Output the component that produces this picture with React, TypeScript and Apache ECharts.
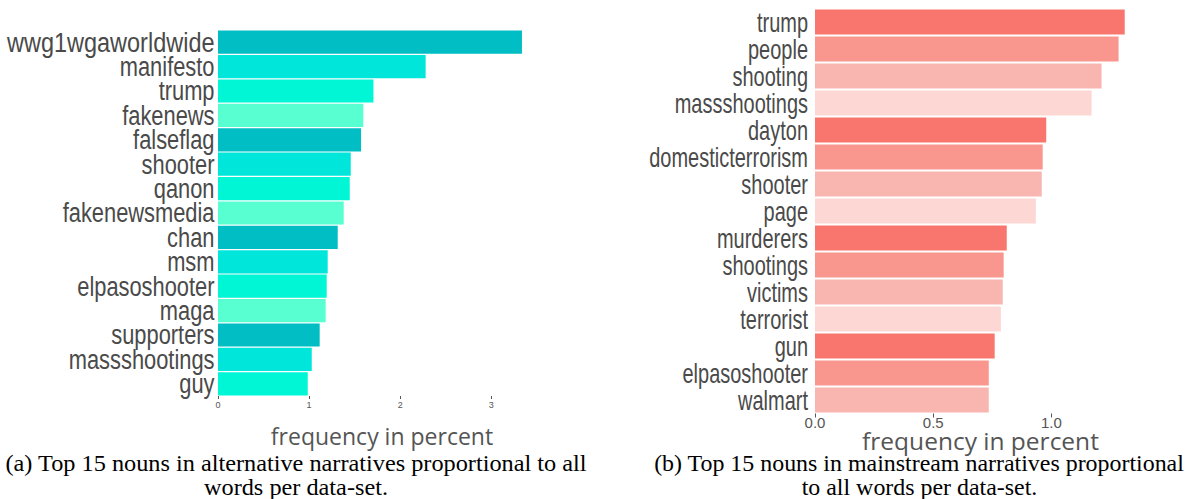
import React, { useEffect, useRef } from "react";
import * as echarts from "echarts";

const altWords = ["wwg1wgaworldwide", "manifesto", "trump", "fakenews", "falseflag", "shooter", "qanon", "fakenewsmedia", "chan", "msm", "elpasoshooter", "maga", "supporters", "massshootings", "guy"];
const altValues = [3.336, 2.279, 1.706, 1.595, 1.57, 1.457, 1.446, 1.38, 1.314, 1.204, 1.193, 1.182, 1.116, 1.029, 0.985];
const altTicks = [0, 1, 2, 3];
const altPalette = ["#00BEC3", "#00E6DA", "#00F6D5", "#58FFD0"];

const mainWords = ["trump", "people", "shooting", "massshootings", "dayton", "domesticterrorism", "shooter", "page", "murderers", "shootings", "victims", "terrorist", "gun", "elpasoshooter", "walmart"];
const mainValues = [1.31, 1.284, 1.212, 1.17, 0.978, 0.963, 0.959, 0.934, 0.811, 0.798, 0.794, 0.786, 0.76, 0.735, 0.735];
const mainTicks = [0, 0.5, 1.0];
const mainPalette = ["#F8766D", "#F9978F", "#F9B6B0", "#FCD7D4"];

const axisTitle = "frequency in percent";
const captionA = ["(a) Top 15 nouns in alternative narratives proportional to all", "words per data-set."];
const captionB = ["(b) Top 15 nouns in mainstream narratives proportional", "to all words per data-set."];

export default function App() {
  const ref = useRef<HTMLDivElement>(null);
  useEffect(() => {
    if (!ref.current) return;
    const chart = echarts.init(ref.current, null, { renderer: "svg" });
    chart.setOption({
      animation: false,
      grid: [
        { left: 218, top: 30, width: 328, height: 366, outerBoundsMode: "none", containLabel: false },
        { left: 815, top: 8.5, width: 331, height: 405, outerBoundsMode: "none", containLabel: false },
      ],
      xAxis: [
        {
          gridIndex: 0, type: "value", min: 0, max: 3.6,
          splitLine: { show: false },
          axisLine: { show: false },
          axisTick: { show: true, length: 3, customValues: altTicks, lineStyle: { color: "#555" } },
          axisLabel: { customValues: altTicks, fontSize: 9, color: "#555", margin: 4, fontFamily: "Liberation Sans" },
          name: axisTitle, nameLocation: "middle", nameGap: 28, nameMoveOverlap: false,
          nameTextStyle: { fontSize: 23, color: "#555", fontFamily: "Open Sans" },
        },
        {
          gridIndex: 1, type: "value", min: 0, max: 1.4,
          splitLine: { show: false },
          axisLine: { show: false },
          axisTick: { show: true, length: 4, customValues: mainTicks, lineStyle: { color: "#555" } },
          axisLabel: { customValues: mainTicks, fontSize: 15, color: "#555", margin: 1, fontFamily: "Liberation Sans", formatter: (v: number) => v.toFixed(1) },
          name: axisTitle, nameLocation: "middle", nameGap: 14, nameMoveOverlap: false,
          nameTextStyle: { fontSize: 24.5, color: "#555", fontFamily: "Open Sans" },
        },
      ],
      yAxis: [
        {
          gridIndex: 0, type: "category", data: altWords, inverse: true,
          axisLine: { show: false }, axisTick: { show: false }, axisLabel: { show: false },
        },
        {
          gridIndex: 1, type: "category", data: mainWords, inverse: true,
          axisLine: { show: false }, axisTick: { show: false }, axisLabel: { show: false },
        },
      ],
      series: [
        {
          type: "bar", xAxisIndex: 0, yAxisIndex: 0, data: altValues,
          barCategoryGap: "5%",
          itemStyle: { color: (p: any) => altPalette[p.dataIndex % altPalette.length] },
        },
        {
          type: "bar", xAxisIndex: 1, yAxisIndex: 1, data: mainValues,
          barCategoryGap: "7%",
          itemStyle: { color: (p: any) => mainPalette[p.dataIndex % mainPalette.length] },
        },
      ],
    });

    const labels: any[] = [];
    const addLabels = (words: string[], axisIndex: number, margin: number, sx: number) => {
      const x0 = chart.convertToPixel({ xAxisIndex: axisIndex } as any, 0) as number;
      words.forEach((w, i) => {
        const y = chart.convertToPixel({ yAxisIndex: axisIndex } as any, i) as number;
        labels.push({
          type: "text", x: x0 - margin, y, scaleX: i === 0 && axisIndex === 0 ? 0.87 : sx, silent: true,
          style: { text: w, x: 0, y: 0, align: "right", verticalAlign: "middle", fontFamily: "Liberation Sans", fontSize: 27, fill: "#4a4a4a" },
        });
      });
    };
    addLabels(altWords, 0, 3.5, 0.81);
    addLabels(mainWords, 1, 7, 0.74);

    const caption = (text: string, x: number, y: number, sx: number) => ({
      type: "text", x, y, scaleX: sx, silent: true,
      style: { text, x: 0, y: 0, align: "center", verticalAlign: "middle", fontFamily: "Liberation Serif", fontSize: 23, fill: "#000" },
    });
    chart.setOption({
      graphic: [
        ...labels,
        caption(captionA[0], 296, 463, 1.056),
        caption(captionA[1], 296, 487, 1.056),
        caption(captionB[0], 919, 463, 1.04),
        caption(captionB[1], 919.5, 487, 1.04),
      ],
    });
    return () => chart.dispose();
  }, []);
  return <div ref={ref} style={{ position: "absolute", left: 0, top: 0, width: 1192, height: 499 }} />;
}
